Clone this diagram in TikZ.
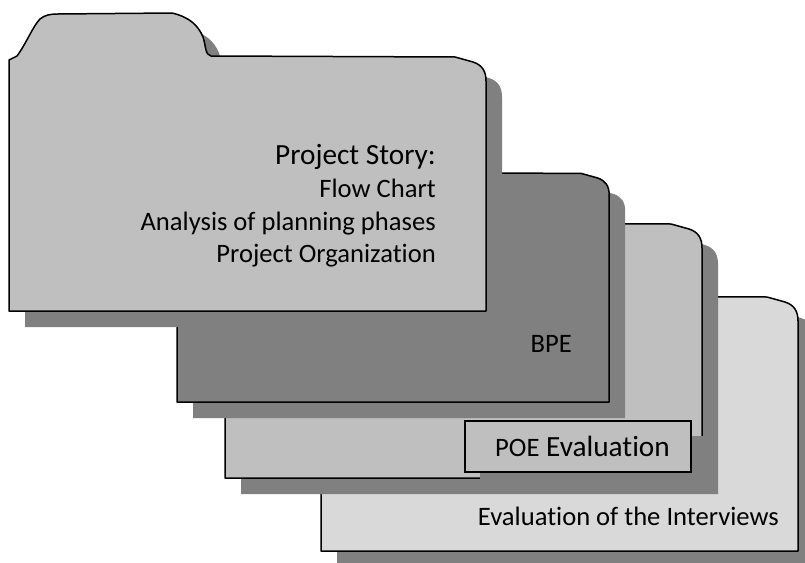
\documentclass[tikz,border=0pt]{standalone}
\usepackage{fontspec}
\setmainfont{Carlito}[Ligatures=NoCommon]
\usetikzlibrary{shadows}

\definecolor{foldergray}{HTML}{BFBFBF}
\definecolor{folderdark}{HTML}{808080}
\definecolor{folderpale}{HTML}{D9D9D9}
\definecolor{shadowgray}{HTML}{808080}

\tikzset{
  folder/.style={draw=black, line width=1.5pt, line join=round},
  fshadow/.style={fill=shadowgray, draw=none},
  bodytext/.style={font=\fontsize{26.6}{32}\selectfont, inner sep=0pt, anchor=base east},
  headtext/.style={font=\fontsize{29.3}{35}\selectfont, inner sep=0pt, anchor=base east},
  poebox/.style={draw=black, line width=1.5pt, fill=foldergray, minimum width=226pt,
    minimum height=51pt, inner sep=0pt, font=\fontsize{29.3}{35}\selectfont,
    drop shadow={shadow xshift=15pt, shadow yshift=-15pt, fill=shadowgray, opacity=1}},
}

% outline of one folder, origin at the lower left corner of its body
\newcommand{\foldershape}{(0,0) -- (0,-251) -- (8,-255)
  .. controls (17,-267) and (24,-285) .. (31,-292)
  .. controls (36,-296) and (41,-297) .. (49,-297) -- (163,-298)
  .. controls (180,-294) and (189,-286) .. (194,-274)
  .. controls (197,-265) and (196,-256) .. (202,-255) -- (446,-254)
  -- (464,-249) .. controls (473,-246) and (477,-240) .. (477,-230)
  -- (477,0) -- cycle}

% #1,#2 lower left corner, #3 scaling, #4 fill
\newcommand{\folder}[4]{%
  \begin{scope}[shift={(#1+16,#2+16)}, #3]
    \fill[fshadow] \foldershape;
  \end{scope}
  \begin{scope}[shift={(#1,#2)}, #3]
    \filldraw[folder, fill=#4] \foldershape;
  \end{scope}}

\begin{document}
\begin{tikzpicture}[x=1pt, y=-1pt]
  \useasboundingbox (0,0) rectangle (805,562);
  \clip (0,0) rectangle (805,562);

  % folders, back to front
  \folder{321}{551}{scale=1}{folderpale}
  \folder{225}{478}{scale=1}{foldergray}
  \node[poebox] (poe) at (578,446.5) {\hspace{9pt}{\fontsize{26.6}{32}\selectfont POE} Evaluation};
  \folder{177}{402}{xscale=0.906, yscale=0.9}{folderdark}
  \folder{9}{311}{scale=1}{foldergray}

  % labels
  \node[headtext] (story) at (436,164) {Project Story:};
  \node[bodytext] (flow) at (436,197) {Flow Chart};
  \node[bodytext] (phases) at (436,230) {Analysis of planning phases};
  \node[bodytext] (organization) at (436,262) {Project Organization};
  \node[bodytext] (bpe) at (572,352) {BPE};
  \node[bodytext] (interviews) at (779,525) {Evaluation of the Interviews};
\end{tikzpicture}
\end{document}
